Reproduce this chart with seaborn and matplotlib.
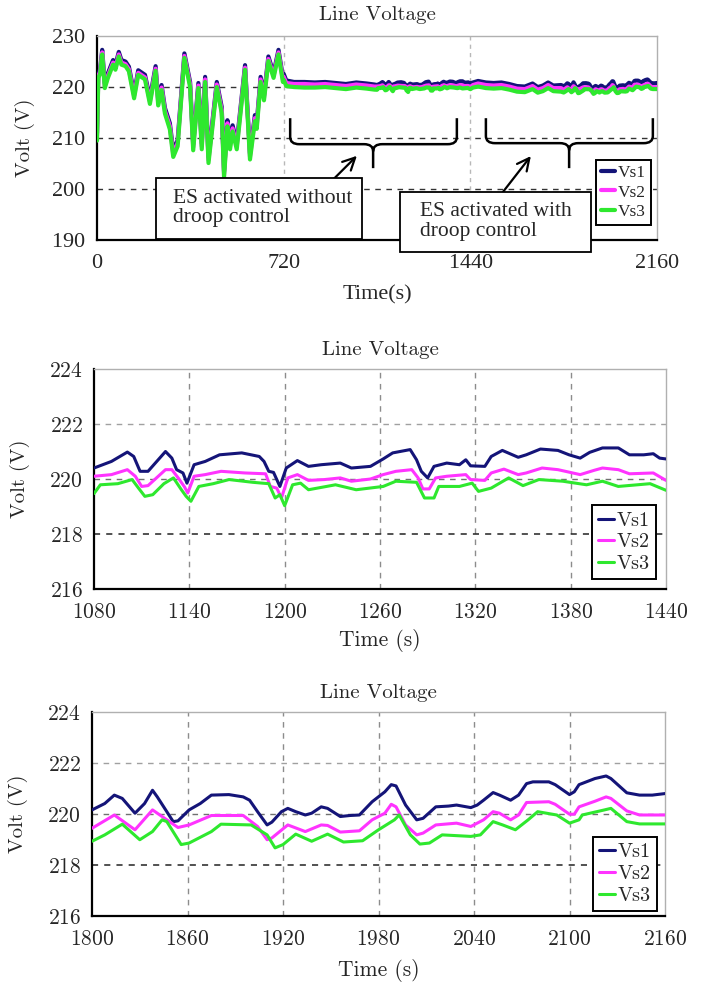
#!/usr/bin/env python3
"""Line voltage of three buses: full run plus two zoomed windows."""

import matplotlib

matplotlib.use("Agg")
import matplotlib.pyplot as plt
import pandas as pd
import seaborn as sns
from matplotlib.patches import PathPatch, Rectangle
from matplotlib.path import Path

OUTPUT_FILENAME = "out.png"

SERIES = ["Vs1", "Vs2", "Vs3"]
COLORS = {"Vs1": "#141478", "Vs2": "#ff33ff", "Vs3": "#2ee82e"}

# --- full run, 0..720 s (before ES activation) ---
t_start = [0, 5, 12, 20, 30, 42, 62, 71, 84, 94, 110, 123, 143, 159, 185, 204,
           226, 236, 249, 262, 281, 294, 311, 337, 359, 371, 391, 404, 417,
           430, 462, 481, 490, 503, 513, 523, 539, 571, 590, 609, 616, 631,
           644, 661, 681, 700, 717]
vs1_start = [211.0, 222.7, 223.5, 227.3, 220.7, 222.7, 225.3, 224.3, 226.9,
             225.3, 225.0, 224.0, 218.8, 223.3, 222.4, 217.8, 224.1, 217.5,
             220.4, 215.9, 212.9, 207.5, 209.6, 226.6, 221.0, 208.8, 220.8,
             209.0, 222.0, 206.3, 221.0, 216.1, 203.5, 213.5, 209.0, 212.5,
             209.0, 224.3, 207.0, 214.5, 213.0, 222.0, 218.4, 226.0, 222.7,
             227.3, 222.0]
vs2_start = [210.4, 222.2, 223.0, 226.8, 220.2, 222.2, 224.8, 223.8, 226.4,
             224.8, 224.5, 223.5, 218.3, 222.8, 221.9, 217.2, 223.6, 216.9,
             219.9, 215.3, 212.3, 206.9, 209.0, 226.1, 220.5, 208.2, 220.3,
             208.4, 221.5, 205.7, 220.5, 215.5, 202.9, 212.9, 208.4, 211.9,
             208.4, 223.8, 206.4, 213.9, 212.4, 221.5, 217.9, 225.5, 222.2,
             226.8, 221.5]
vs3_start = [209.5, 221.8, 222.6, 226.4, 219.8, 221.8, 224.4, 223.4, 226.0,
             224.4, 224.1, 223.1, 217.8, 222.4, 221.5, 216.7, 223.2, 216.4,
             219.4, 214.8, 211.7, 206.3, 208.4, 225.7, 220.0, 207.6, 219.8,
             207.8, 221.0, 205.1, 220.0, 214.9, 202.3, 212.3, 207.8, 211.3,
             207.8, 223.4, 205.8, 213.3, 211.8, 221.0, 217.4, 225.1, 221.8,
             226.4, 221.0]

# --- 720..1080 s, ES without droop (coarse) ---
t_nodroop = [720, 730, 760, 800, 840, 880, 920, 960, 1000, 1040, 1070]
vs1_nodroop = [222.6, 221.3, 221.0, 221.0, 220.9, 221.0, 220.8, 220.6, 220.9, 220.7, 220.5]
vs2_nodroop = [222.0, 220.8, 220.6, 220.6, 220.5, 220.6, 220.4, 220.2, 220.5, 220.3, 220.1]
vs3_nodroop = [221.4, 220.2, 220.0, 219.9, 219.9, 220.0, 219.8, 219.6, 219.9, 219.7, 219.5]

# --- 1080..1440 s window (middle plot) ---
t_mid1 = [1080, 1091, 1101, 1105, 1109, 1114, 1125, 1129, 1132, 1136, 1138.5,
          1143, 1150, 1159, 1173, 1184, 1187, 1190, 1193, 1197, 1201, 1208,
          1215, 1223, 1235, 1242, 1254, 1262, 1268, 1279, 1283, 1286, 1290,
          1294, 1302, 1310, 1314, 1317, 1326, 1330, 1337, 1347, 1352, 1361,
          1372, 1379, 1386, 1392, 1400, 1410, 1417, 1426, 1432, 1436, 1440]
vs1_mid = [220.40, 220.64, 220.98, 220.82, 220.28, 220.28, 221.00, 220.76,
           220.34, 220.22, 219.85, 220.52, 220.64, 220.88, 220.95, 220.82,
           220.64, 220.28, 220.24, 219.73, 220.40, 220.67, 220.46, 220.52,
           220.58, 220.40, 220.46, 220.73, 220.95, 221.07, 220.70, 220.28,
           220.04, 220.46, 220.58, 220.52, 220.70, 220.48, 220.46, 220.82,
           221.04, 220.79, 220.88, 221.09, 221.04, 220.88, 220.76, 220.97,
           221.13, 221.13, 220.88, 220.88, 220.92, 220.76, 220.73]
t_mid2 = [1080, 1091, 1101, 1106, 1110, 1114, 1125, 1129, 1133, 1137, 1139,
          1143, 1150, 1160, 1175, 1188, 1191, 1195, 1198, 1202, 1208, 1215,
          1225, 1235, 1242, 1254, 1262, 1270, 1280, 1284, 1287, 1291, 1295,
          1302, 1314, 1317, 1326, 1330, 1338, 1347, 1352, 1362, 1372, 1386,
          1395, 1400, 1410, 1417, 1432, 1440]
vs2_mid = [220.10, 220.16, 220.34, 220.10, 219.73, 219.76, 220.34, 220.34,
           220.04, 219.71, 219.49, 220.10, 220.16, 220.28, 220.22, 220.19,
           219.73, 219.67, 219.31, 220.04, 220.16, 219.95, 219.98, 220.04,
           219.92, 220.00, 220.16, 220.28, 220.34, 220.04, 219.64, 219.64,
           220.04, 220.10, 220.16, 219.98, 219.95, 220.22, 220.36, 220.16,
           220.22, 220.40, 220.34, 220.16, 220.32, 220.40, 220.34, 220.19,
           220.22, 219.95]
t_mid3 = [1080, 1084, 1095, 1104, 1108, 1112, 1117, 1124, 1130, 1135, 1138,
          1141, 1146, 1155, 1165, 1180, 1190, 1194, 1197, 1200, 1205, 1210,
          1215, 1232, 1245, 1262, 1270, 1283, 1288, 1294, 1297, 1310, 1318,
          1322, 1330, 1341, 1350, 1360, 1375, 1390, 1400, 1410, 1430, 1440]
vs3_mid = [219.47, 219.79, 219.83, 219.98, 219.67, 219.37, 219.43, 219.83,
           220.04, 219.61, 219.37, 219.19, 219.73, 219.83, 219.98, 219.88,
           219.83, 219.31, 219.43, 219.03, 219.79, 219.85, 219.61, 219.79,
           219.61, 219.73, 219.92, 219.88, 219.31, 219.31, 219.73, 219.73,
           219.85, 219.55, 219.67, 220.04, 219.76, 219.98, 219.92, 219.79,
           219.92, 219.73, 219.83, 219.59]

# --- 1440..1800 s, ES with droop (coarse) ---
t_droop = [1450, 1470, 1500, 1530, 1560, 1590, 1620, 1650, 1680, 1700, 1720, 1740, 1760, 1790]
vs1_droop = [220.9, 221.2, 220.9, 220.8, 220.9, 220.6, 220.2, 220.1, 220.7, 220.0, 220.3, 220.9, 220.3, 220.4]
vs2_droop = [220.4, 220.7, 220.4, 220.3, 220.4, 220.1, 219.7, 219.6, 220.2, 219.5, 219.8, 220.4, 219.8, 219.8]
vs3_droop = [219.9, 220.1, 219.8, 219.7, 219.8, 219.5, 219.1, 219.0, 219.6, 218.9, 219.2, 219.8, 219.2, 219.1]

# --- 1800..2160 s window (bottom plot) ---
t_bot1 = [1800, 1808, 1814, 1819, 1827, 1833, 1838, 1841, 1851, 1854, 1861,
          1868, 1875, 1886, 1895, 1899, 1904, 1910, 1913, 1919, 1923, 1928,
          1934, 1938, 1944, 1948, 1956, 1962, 1968, 1976, 1984, 1988, 1991,
          1997, 2004, 2008, 2016, 2024, 2029, 2038, 2042, 2046, 2052, 2056,
          2063, 2068, 2073, 2077, 2087, 2091, 2100, 2103, 2106, 2116, 2123,
          2126, 2136, 2144, 2152, 2160]
vs1_bot = [220.16, 220.41, 220.74, 220.61, 220.03, 220.41, 220.93, 220.67,
           219.70, 219.73, 220.16, 220.41, 220.74, 220.76, 220.67, 220.54,
           220.09, 219.57, 219.68, 220.09, 220.22, 220.09, 219.96, 220.03,
           220.28, 220.22, 219.90, 219.94, 219.96, 220.48, 220.87, 221.15,
           221.10, 220.35, 219.77, 219.83, 220.28, 220.31, 220.35, 220.25,
           220.35, 220.54, 220.84, 220.74, 220.54, 220.74, 221.19, 221.26,
           221.26, 221.15, 220.76, 220.87, 221.15, 221.39, 221.49, 221.39,
           220.83, 220.74, 220.74, 220.80]
t_bot2 = [1800, 1814, 1827, 1838, 1841, 1854, 1861, 1875, 1895, 1904, 1910,
          1913, 1923, 1934, 1944, 1948, 1956, 1968, 1976, 1984, 1988, 1991,
          1997, 2004, 2008, 2016, 2029, 2038, 2046, 2052, 2056, 2063, 2068,
          2073, 2087, 2091, 2100, 2103, 2106, 2116, 2123, 2126, 2136, 2144, 2160]
vs2_bot = [219.44, 219.96, 219.38, 220.16, 220.03, 219.47, 219.57, 219.94,
           219.94, 219.51, 218.99, 219.06, 219.57, 219.31, 219.57, 219.55,
           219.29, 219.34, 219.77, 220.03, 220.38, 220.28, 219.57, 219.18,
           219.25, 219.57, 219.64, 219.51, 219.77, 220.09, 220.03, 219.77,
           219.96, 220.45, 220.48, 220.38, 219.99, 219.99, 220.28, 220.50,
           220.67, 220.61, 220.12, 219.96, 219.96]
t_bot3 = [1800, 1808, 1819, 1830, 1838, 1844, 1847, 1856, 1861, 1875, 1881,
          1900, 1910, 1915, 1920, 1928, 1938, 1948, 1958, 1970, 1980, 1990,
          1993, 2000, 2006, 2012, 2020, 2038, 2044, 2052, 2058, 2066, 2074,
          2080, 2092, 2100, 2106, 2108, 2122, 2126, 2136, 2144, 2160]
vs3_bot = [218.93, 219.18, 219.60, 218.99, 219.31, 219.77, 219.70, 218.80,
           218.86, 219.31, 219.60, 219.57, 219.18, 218.67, 218.80, 219.21,
           218.93, 219.21, 218.90, 218.95, 219.38, 219.77, 219.96, 219.18,
           218.82, 218.86, 219.18, 219.12, 219.18, 219.70, 219.57, 219.38,
           219.77, 220.09, 219.96, 219.64, 219.77, 219.96, 220.16, 220.22,
           219.70, 219.61, 219.61]

TOP_XTICKS = [0, 720, 1440, 2160]
TOP_YTICKS = [190, 200, 210, 220, 230]
MID_XTICKS = [1080, 1140, 1200, 1260, 1320, 1380, 1440]
BOT_XTICKS = [1800, 1860, 1920, 1980, 2040, 2100, 2160]
ZOOM_YTICKS = [216, 218, 220, 222, 224]

CM = "cmr10"
TIMES = "Liberation Serif"


def to_frame(pieces):
    """Stack (name, times, values) pieces into one long frame."""
    rows = []
    for name, ts, vs in pieces:
        assert len(ts) == len(vs), name
        rows.append(pd.DataFrame({"time": ts, "volt": vs, "series": name}))
    return pd.concat(rows, ignore_index=True)


def draw_lines(ax, df, lw):
    for name in SERIES:
        sub = df[df["series"] == name].sort_values("time")
        sns.lineplot(data=sub, x="time", y="volt", color=COLORS[name],
                     linewidth=lw, label=name, ax=ax, estimator=None,
                     sort=False, zorder=3)


def style_axes(ax, xticks, yticks, font, size):
    ax.set_xticks(xticks)
    ax.set_yticks(yticks)
    ax.set_xlim(xticks[0], xticks[-1])
    ax.set_ylim(yticks[0], yticks[-1])
    for side in ("top", "right"):
        ax.spines[side].set_color("#b0b0b0")
        ax.spines[side].set_linewidth(1.0)
    for side in ("left", "bottom"):
        ax.spines[side].set_color("black")
        ax.spines[side].set_linewidth(1.6)
    ax.tick_params(axis="x", direction="inout", length=8, width=1.4, pad=6)
    ax.tick_params(axis="y", direction="out", length=4, width=1.4, pad=4)
    for lab in ax.get_xticklabels() + ax.get_yticklabels():
        lab.set_fontfamily(font)
        lab.set_fontsize(size)


def add_legend(ax, font, size, anchor):
    leg = ax.legend(loc="lower right", bbox_to_anchor=anchor, frameon=True,
                    fancybox=False, edgecolor="black", framealpha=1,
                    handlelength=0.8, handletextpad=0.15, borderpad=0.3,
                    labelspacing=0.18, borderaxespad=0.0,
                    prop={"family": font, "size": size})
    leg.get_frame().set_linewidth(1.4)


def draw_brace(ax, x0, x1, xc, y_top, y_mid, y_tip, rx, ry):
    verts = [
        (x0, y_top), (x0, y_mid + ry), (x0, y_mid), (x0 + rx, y_mid),
        (xc - rx, y_mid), (xc, y_mid), (xc, y_mid - ry), (xc, y_tip),
        (xc, y_mid - ry), (xc, y_mid), (xc + rx, y_mid),
        (x1 - rx, y_mid), (x1, y_mid), (x1, y_mid + ry), (x1, y_top),
    ]
    codes = [
        Path.MOVETO, Path.LINETO, Path.CURVE3, Path.CURVE3,
        Path.LINETO, Path.CURVE3, Path.CURVE3, Path.LINETO,
        Path.MOVETO, Path.CURVE3, Path.CURVE3,
        Path.LINETO, Path.CURVE3, Path.CURVE3, Path.LINETO,
    ]
    ax.add_patch(PathPatch(Path(verts, codes), fill=False, lw=1.8,
                           edgecolor="black", zorder=5))


def main():
    sns.set_style("white")
    plt.rcParams["axes.formatter.use_mathtext"] = True
    plt.rcParams["mathtext.fontset"] = "cm"

    fig = plt.figure(figsize=(7.02, 9.83), dpi=100)
    ax_top = fig.add_axes([0.1382, 0.7558, 0.7977, 0.2075])
    ax_mid = fig.add_axes([0.1339, 0.4008, 0.8148, 0.2238])
    ax_bot = fig.add_axes([0.1311, 0.0682, 0.8162, 0.2075])

    full = to_frame([
        ("Vs1", t_start + t_nodroop + t_mid1 + t_droop + t_bot1,
         vs1_start + vs1_nodroop + vs1_mid + vs1_droop + vs1_bot),
        ("Vs2", t_start + t_nodroop + t_mid2 + t_droop + t_bot2,
         vs2_start + vs2_nodroop + vs2_mid + vs2_droop + vs2_bot),
        ("Vs3", t_start + t_nodroop + t_mid3 + t_droop + t_bot3,
         vs3_start + vs3_nodroop + vs3_mid + vs3_droop + vs3_bot),
    ])
    mid = to_frame([("Vs1", t_mid1, vs1_mid), ("Vs2", t_mid2, vs2_mid),
                    ("Vs3", t_mid3, vs3_mid)])
    bot = to_frame([("Vs1", t_bot1, vs1_bot), ("Vs2", t_bot2, vs2_bot),
                    ("Vs3", t_bot3, vs3_bot)])

    # --- 1. full run ---
    for v in (200, 210, 220):
        ax_top.axhline(v, color="#333333", ls=(0, (4, 4)), lw=1.0, zorder=1)
    for t in (720, 1440):
        ax_top.axvline(t, color="#b8b8b8", ls=(0, (3, 3)), lw=1.0, zorder=1)
    draw_lines(ax_top, full, 3.0)
    style_axes(ax_top, TOP_XTICKS, TOP_YTICKS, TIMES, 16)
    add_legend(ax_top, TIMES, 12.5, (0.989, 0.0735))

    draw_brace(ax_top, 745, 1388, 1065, 213.9, 208.8, 204.1, 35, 1.4)
    draw_brace(ax_top, 1500, 2144, 1821, 213.9, 209.0, 204.1, 35, 1.4)
    ax_top.annotate("", xy=(1010, 206.9), xytext=(872, 199.9),
                    arrowprops=dict(arrowstyle="->", lw=1.6, color="black",
                                    mutation_scale=22), zorder=6)
    ax_top.annotate("", xy=(1680, 206.9), xytext=(1547, 198.2),
                    arrowprops=dict(arrowstyle="->", lw=1.6, color="black",
                                    mutation_scale=22), zorder=6)
    for x0, y0, w, h, tx, ty, msg in [
        (226, 190.2, 798, 12.0, 293, 196.3, "ES activated without\ndroop control"),
        (1170, 187.6, 736, 11.8, 1245, 193.6, "ES activated with\ndroop control"),
    ]:
        ax_top.add_patch(Rectangle((x0, y0), w, h, facecolor="white",
                                   edgecolor="black", lw=1.3, zorder=7,
                                   clip_on=False))
        ax_top.text(tx, ty, msg, ha="left", va="center", family=TIMES,
                    fontsize=15.5, linespacing=1.05, zorder=8)

    ax_top.set_xlabel("")
    ax_top.set_ylabel("")
    ax_top.text(0.5, -0.27, "Time(s)", transform=ax_top.transAxes,
                ha="center", va="center", family=TIMES, fontsize=16)
    ax_top.text(-0.129, 0.5, "Volt (V)", transform=ax_top.transAxes,
                ha="center", va="center", rotation=90, family=CM, fontsize=15)
    ax_top.text(0.5, 1.103, "Line Voltage", transform=ax_top.transAxes,
                ha="center", va="center", family=CM, fontsize=15)

    # --- 2. and 3. zoomed windows ---
    for ax, df, xticks, label_y, title_y, anchor in [
        (ax_mid, mid, MID_XTICKS, -0.236, 1.086, (0.983, 0.045)),
        (ax_bot, bot, BOT_XTICKS, -0.265, 1.093, (0.986, 0.025)),
    ]:
        for t in xticks[1:-1]:
            ax.axvline(t, color="#8c8c8c", ls=(0, (4, 4)), lw=1.0, zorder=1)
        ax.axhline(222, color="#a0a0a0", ls=(0, (4, 4)), lw=1.0, zorder=1)
        ax.axhline(220, color="#707070", ls=(0, (4, 4)), lw=1.0, zorder=1)
        ax.axhline(218, color="#222222", ls=(0, (4, 4)), lw=1.1, zorder=1)
        draw_lines(ax, df, 2.2)
        style_axes(ax, xticks, ZOOM_YTICKS, CM, 15.5)
        add_legend(ax, CM, 14.5, anchor)
        ax.set_xlabel("")
        ax.set_ylabel("")
        ax.text(0.5, label_y, "Time (s)", transform=ax.transAxes,
                ha="center", va="center", family=CM, fontsize=15.5)
        ax.text(-0.129, 0.5, "Volt (V)", transform=ax.transAxes,
                ha="center", va="center", rotation=90, family=CM, fontsize=15)
        ax.text(0.5, title_y, "Line Voltage", transform=ax.transAxes,
                ha="center", va="center", family=CM, fontsize=15)

    fig.savefig(OUTPUT_FILENAME, dpi=100)


if __name__ == "__main__":
    main()
